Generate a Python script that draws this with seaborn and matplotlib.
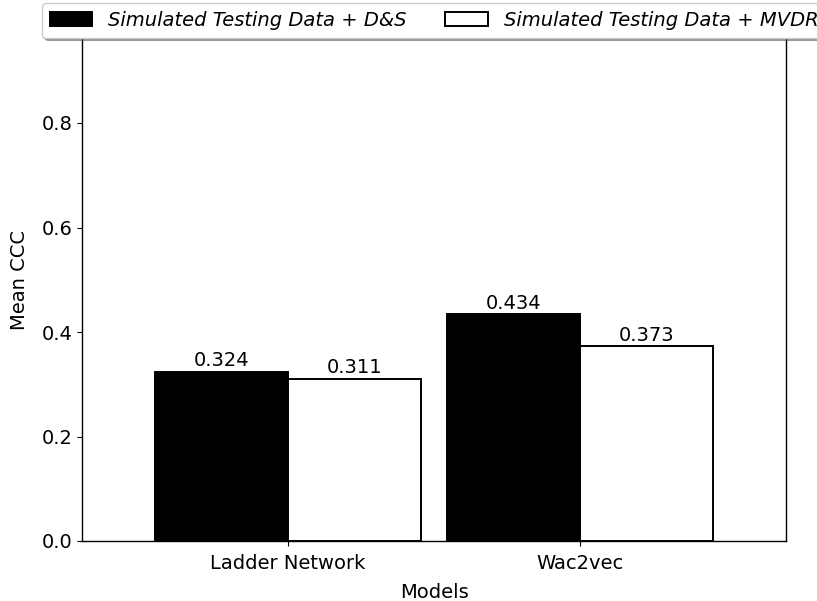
import matplotlib
matplotlib.use("Agg")
import matplotlib.pyplot as plt
import seaborn as sns
import pandas as pd

models = ["Ladder Network", "Wac2vec"]
series = ["Simulated Testing Data + D&S", "Simulated Testing Data + MVDR"]
ds_values = [0.324, 0.434]
mvdr_values = [0.311, 0.373]

df = pd.DataFrame({
    "Models": models * 2,
    "Series": [series[0]] * 2 + [series[1]] * 2,
    "Mean CCC": ds_values + mvdr_values,
})

sns.set_style("ticks")
plt.rcParams['font.family'] = ['DejaVu Sans']

FS = 14

fig = plt.figure(figsize=(8.17, 6.01), dpi=100)
ax = fig.add_axes([82/817, 60/601, (786-82)/817, (541-18.5)/601])

sns.barplot(data=df, x="Models", y="Mean CCC", hue="Series", hue_order=series,
            palette=["black", "white"], width=0.91, edgecolor="black",
            linewidth=1.4, ax=ax, errorbar=None, saturation=1)

for c in ax.containers:
    ax.bar_label(c, fmt="%.3f", fontsize=FS, padding=1, color="black")

ax.set_ylim(0, 1.0)
ax.set_xlim(-0.705, 1.705)
ax.set_yticks([0.0, 0.2, 0.4, 0.6, 0.8])
ax.tick_params(labelsize=FS, colors="black")
ax.tick_params(axis="x", pad=6)
ax.set_xlabel("Models", fontsize=FS, color="black", labelpad=7)
ax.set_ylabel("Mean CCC", fontsize=FS, color="black", labelpad=9)
for s in ax.spines.values():
    s.set_visible(True)
    s.set_linewidth(1.0)
    s.set_color("black")

leg = ax.legend(loc="upper center", bbox_to_anchor=(0.5, 1.0297), ncol=2, frameon=True,
                shadow=True, fancybox=True, prop={"style": "italic", "size": FS},
                columnspacing=2.0, handlelength=2.2, borderaxespad=0)
for t in leg.get_texts():
    t.set_color("black")

fig.savefig("out.png", dpi=100)
